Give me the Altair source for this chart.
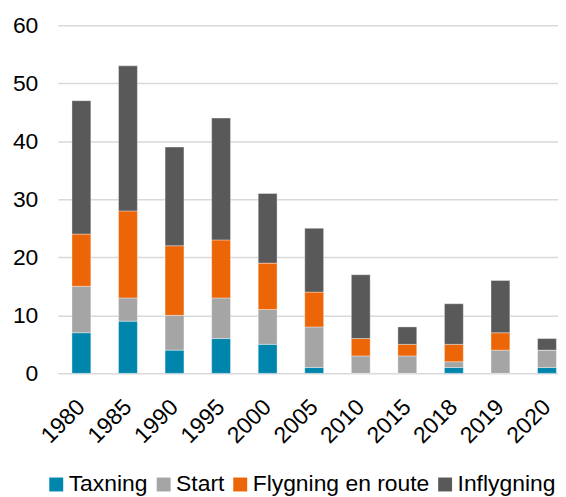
import altair as alt
import pandas as pd

years = ["1980", "1985", "1990", "1995", "2000", "2005", "2010", "2015", "2018", "2019", "2020"]
series = ["Taxning", "Start", "Flygning en route", "Inflygning"]
taxning = [7, 9, 4, 6, 5, 1, 0, 0, 1, 0, 1]
start = [8, 4, 6, 7, 6, 7, 3, 3, 1, 4, 3]
en_route = [9, 15, 12, 10, 8, 6, 3, 2, 3, 3, 0]
inflygning = [23, 25, 17, 21, 12, 11, 11, 3, 7, 9, 2]
colors = ["#0085AD", "#A5A5A5", "#EC6608", "#595959"]

rows = []
for vals, name, idx in zip([taxning, start, en_route, inflygning], series, range(4)):
    for y, v in zip(years, vals):
        rows.append({"year": y, "series": name, "value": v, "order": idx})
df = pd.DataFrame(rows)

FONT = "Liberation Sans"

chart = alt.Chart(df).mark_bar(stroke="#ffffff", strokeWidth=0.6, strokeOpacity=0.6).encode(
    x=alt.X("year:N", sort=years, title=None,
            scale=alt.Scale(paddingInner=0.595, paddingOuter=0.17, align=0.9),
            axis=alt.Axis(labelAngle=-45, labelFontSize=23, labelFont=FONT, labelColor="#000000",
                          labelAlign="right", labelBaseline="middle",
                          labelExpr="datum.label + '\u00a0\u00a0'",
                          ticks=False, domain=False, labelPadding=18, offset=12)),
    y=alt.Y("value:Q", stack="zero", title=None,
            scale=alt.Scale(domain=[0, 60], nice=False),
            axis=alt.Axis(values=[0, 10, 20, 30, 40, 50, 60], labelFontSize=23, labelFont=FONT,
                          labelColor="#000000", ticks=False, domain=False, labelPadding=20,
                          gridColor="#D9D9D9", gridWidth=1.5)),
    color=alt.Color("series:N", sort=series,
                    scale=alt.Scale(domain=series, range=colors),
                    legend=alt.Legend(title=None, orient="none", direction="horizontal",
                                      legendX=-13, legendY=450,
                                      symbolType="square", symbolSize=196, symbolStrokeWidth=0,
                                      labelFontSize=23, labelFont=FONT, labelColor="#000000",
                                      labelLimit=0, labelOffset=1, columnPadding=4)),
    order=alt.Order("order:Q", sort="ascending"),
).properties(
    width=503, height=350,
    padding={"left": 50, "top": 16, "right": 0, "bottom": 125},
    autosize=alt.AutoSizeParams(type="none"),
).configure_view(stroke=None)

chart.save("out.html", embed_options={"renderer": "svg", "actions": False})
